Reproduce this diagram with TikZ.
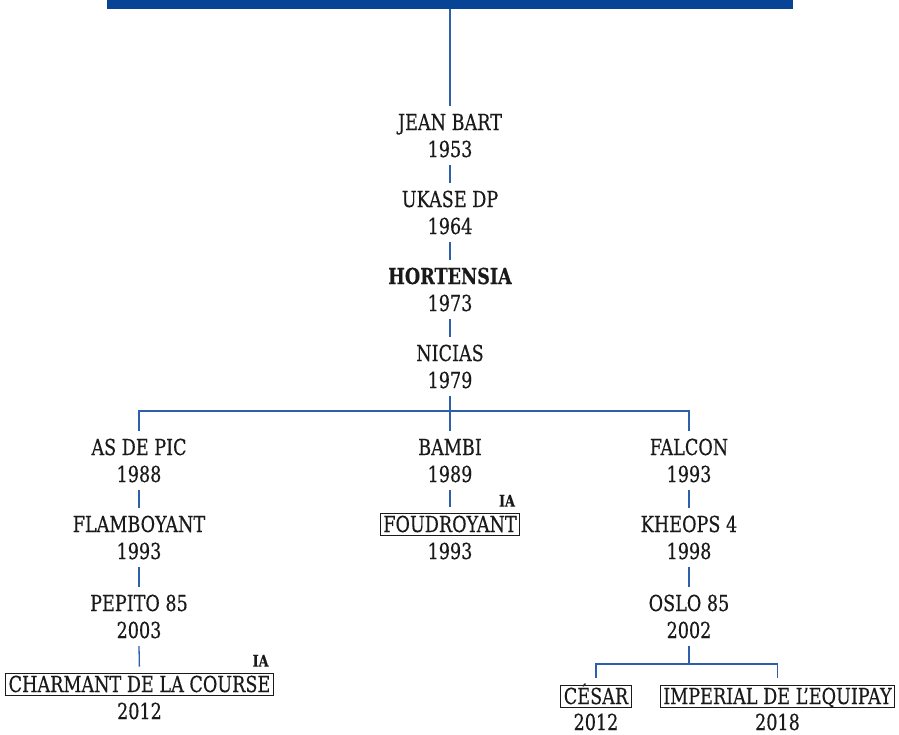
\documentclass[tikz,border=0pt]{standalone}
\usepackage{fontspec}
\setmainfont{DejaVu Serif}[FakeStretch=0.80, FakeBold=0.35]
\definecolor{barblue}{HTML}{084496}
\definecolor{lineblue}{HTML}{2D5FAA}
\definecolor{ink}{HTML}{1A1A1A}
\begin{document}
\begin{tikzpicture}[x=1pt,y=1pt,
  conn/.style={draw=lineblue, line width=1.3pt},
  nm/.style={anchor=base, inner xsep=0pt, inner ysep=8pt, text height=16pt, text depth=0pt, font=\fontsize{22}{25}\selectfont, text=ink},
  boxed/.style={anchor=base, draw=ink, line width=0.9pt, inner xsep=3pt, inner ysep=3pt, text height=16pt, text depth=0pt, font=\fontsize{22}{25}\selectfont, text=ink},
  ia/.style={anchor=base east, inner sep=0pt, font=\fontsize{16}{18}\selectfont\bfseries, text=ink}
]
\useasboundingbox (0,0) rectangle (899,-734);
\node[fill=barblue, minimum width=686pt, minimum height=8.5pt, inner sep=0pt, anchor=north] (bar) at (450,0) {};
% centre column
\node[nm] (jb) at (450,-130) {JEAN BART};
\node[nm] (y1953) at (450,-157) {1953};
\node[nm] (uk) at (450,-207) {UKASE DP};
\node[nm] (y1964) at (450,-234) {1964};
\node[nm, font=\fontsize{22}{25}\selectfont\bfseries] (ho) at (450,-284) {HORTENSIA};
\node[nm] (y1973) at (450,-311) {1973};
\node[nm] (ni) at (450,-361) {NICIAS};
\node[nm] (y1979) at (450,-388) {1979};
\coordinate (bus) at (450,-411);
% row A
\node[nm] (as) at (139,-455) {AS DE PIC};
\node[nm] (y1988) at (139,-482) {1988};
\node[nm] (ba) at (450,-455) {BAMBI};
\node[nm] (y1989) at (450,-482) {1989};
\node[nm] (fa) at (689,-455) {FALCON};
\node[nm] (y1993a) at (689,-482) {1993};
% row B
\node[nm] (fl) at (139,-532) {FLAMBOYANT};
\node[nm] (y1993b) at (139,-559) {1993};
\node[boxed] (fo) at (450,-532) {FOUDROYANT};
\node[nm] (y1993c) at (450,-559) {1993};
\node[ia] (iafo) at ([xshift=-5pt,yshift=6pt]fo.north east) {IA};
\node[nm] (kh) at (689,-532) {KHEOPS 4};
\node[nm] (y1998) at (689,-559) {1998};
% row C
\node[nm] (pe) at (139,-611) {PEPITO 85};
\node[nm] (y2003) at (139,-638) {2003};
\node[nm] (os) at (689,-611) {OSLO 85};
\node[nm] (y2002) at (689,-638) {2002};
% row D
\node[boxed] (ch) at (139.5,-692) {CHARMANT DE LA COURSE};
\node[nm] (y2012a) at (139.5,-719) {2012};
\node[ia] (iach) at ([xshift=-5pt,yshift=6pt]ch.north east) {IA};
\coordinate (bus2) at (689,-664);
\node[boxed] (ce) at (596,-704) {CÉSAR};
\node[nm] (y2012b) at (596,-730) {2012};
\node[boxed] (im) at (777.5,-704) {IMPERIAL DE L’EQUIPAY};
\node[nm] (y2018) at (777.5,-730) {2018};
% connectors
\draw[conn] (bar.south) -- (jb.north);
\draw[conn] (y1953.south) -- (uk.north);
\draw[conn] (y1964.south) -- (ho.north);
\draw[conn] (y1973.south) -- (ni.north);
\draw[conn] (y1979.south) -- (ba.north);
\draw[conn] (as.north) |- (bus) -| (fa.north);
\draw[conn] (y1988.south) -- (fl.north);
\draw[conn] (y1993b.south) -- (pe.north);
\draw[conn, shorten >=6pt] (y2003.south) -- (ch.north);
\draw[conn, shorten >=6pt] (y1989.south) -- (fo.north);
\draw[conn] (y1993a.south) -- (kh.north);
\draw[conn] (y1998.south) -- (os.north);
\draw[conn] (y2002.south) -- (bus2);
\draw[conn, shorten <=7pt, shorten >=7pt] (ce.north) |- (bus2) -| (im.north);
\end{tikzpicture}
\end{document}
